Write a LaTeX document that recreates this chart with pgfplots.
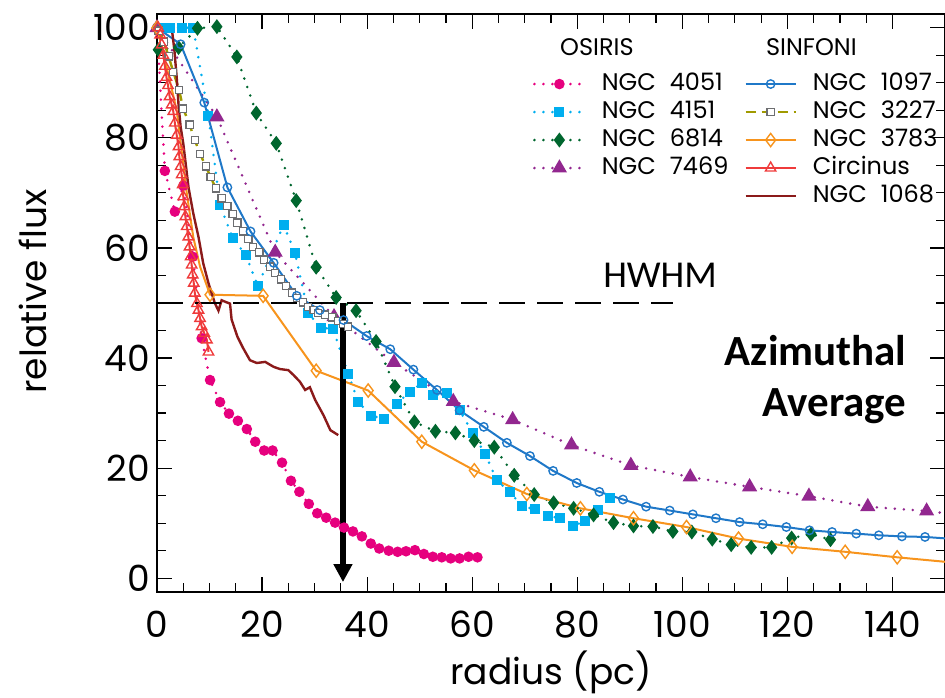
\documentclass[border=0pt]{standalone}
\usepackage{fontspec}
\setmainfont{Poppins}
\newfontfamily\hwfont{Carlito}
\usepackage{pgfplots}
\pgfplotsset{compat=1.18}
\usetikzlibrary{arrows.meta}

\definecolor{c4051}{HTML}{E6007E}
\definecolor{c4151}{HTML}{00AEEF}
\definecolor{c6814}{HTML}{00662E}
\definecolor{c7469}{HTML}{92278F}
\definecolor{c1097}{HTML}{1F78C8}
\definecolor{c3227}{HTML}{A09A00}
\definecolor{c3227m}{HTML}{6D6E71}
\definecolor{c3783}{HTML}{F7941D}
\definecolor{cCirc}{HTML}{EF3B3B}
\definecolor{c1068}{HTML}{8B1A1A}

\pgfplotsset{
  dotline/.style={line width=1.4pt, dash pattern=on 0pt off 4.5pt, line cap=round},
  s4051/.style={color=c4051, dotline, mark=*, mark size=1.9pt, mark options={solid}},
  s4151/.style={color=c4151, dotline, mark=square*, mark size=1.8pt, mark options={solid}},
  s6814/.style={color=c6814, dotline, mark=diamond*, mark size=2.6pt, mark options={solid}},
  s7469/.style={color=c7469, dotline, mark=triangle*, mark size=3pt, mark options={solid}},
  s1097/.style={color=c1097, line width=1pt, mark=o, mark size=2.1pt, mark options={solid, line width=0.7pt}},
  s3227/.style={color=c3227, line width=1.2pt, dash pattern=on 5pt off 3pt, mark=square*, mark size=1.8pt, mark options={solid, draw=c3227m, fill=white, line width=0.6pt}},
  s3783/.style={color=c3783, line width=1pt, mark=diamond, mark size=3.3pt, mark options={solid, line width=0.7pt}},
  sCirc/.style={color=cCirc, line width=1pt, mark=triangle, mark size=3pt, mark options={solid, line width=0.7pt}},
  s1068/.style={color=c1068, line width=1.2pt, mark=none},
}

\begin{document}
\begin{tikzpicture}
\begin{axis}[
  scale only axis, width=394pt, height=289pt,
  xmin=0, xmax=150, ymin=-2.5, ymax=102.5,
  xtick={0,20,...,140}, ytick={0,20,...,100},
  minor x tick num=3, minor y tick num=3,
  tick align=inside, xtick pos=both, ytick pos=both,
  major tick length=7.5pt, minor tick length=4.5pt,
  axis line style={line width=0.8pt},
  tick style={line width=0.6pt, black},
  /pgf/number format/assume math mode=true,
  tick label style={font=\fontsize{18}{18}\selectfont},
  xticklabel={\pgfmathprintnumber{\tick}},
  xticklabel style={text height=19pt},
  yticklabel={\pgfmathprintnumber{\tick}\hspace{3.5pt}},
  xlabel={radius (pc)}, ylabel={relative flux},
  xlabel style={at={(axis description cs:0.5,-0.139)}, anchor=center, font=\fontsize{18}{18}\selectfont},
  ylabel style={at={(axis description cs:-0.158,0.52)}, anchor=center, font=\fontsize{18}{18}\selectfont},
  legend columns=2,
  legend cell align=left,
  legend image code/.code={\draw[mark repeat=2,mark phase=2] plot coordinates {(0pt,0pt)(12.5pt,0pt)(25pt,0pt)};},
  legend style={draw=none, fill=none, font=\fontsize{12}{14}\selectfont,
    at={(axis cs:71.5,79.6)}, anchor=west, inner sep=0pt, row sep=0pt, column sep=6.5pt,
    nodes={inner sep=1.5pt, text height=8.5pt, text depth=2.5pt}},
]

% NGC 4051 (OSIRIS)
\addplot[s4051, forget plot] coordinates {
(0,100)(1.5,74)(3.4,66.6)(5.0,71.3)(6.8,58.4)(8.5,43.6)(10.1,36)(12,32)(13.7,29.9)
(15.4,28.6)(17.1,27.1)(18.7,24.8)(20.4,23.2)(22.0,23.2)(23.8,21.0)(25.5,17.7)(27.1,15.7)
(28.9,13.5)(30.5,11.8)(32.2,11.0)(33.9,10.1)(35.6,9.2)(37.3,8.5)(39,7.6)(40.7,6.3)
(42.3,5.4)(44.1,5.0)(45.8,4.8)(47.4,4.9)(49.1,5.1)(50.8,4.4)(52.5,3.9)(54.2,3.8)
(55.9,3.6)(57.6,3.6)(59.3,3.9)(61,3.8)};

% NGC 4151 (OSIRIS)
\addplot[s4151, forget plot] coordinates {
(0.6,100)(2.5,100)(4.8,100)(6.9,100)(9.8,84)(12,67.8)(14.4,61.8)(16.9,58.7)(19.2,53.1)
(24.1,64.2)(26.3,59)(28.8,48.1)(31.2,45.5)(33.5,45.3)(36.4,37.1)(38.3,32.1)(40.7,29.5)
(43.2,29.0)(45.6,31.6)(48.1,33.9)(50.4,35.4)(52.6,33.3)(55.2,33.6)(57.6,30.5)(60.1,26.4)
(62.5,22.5)(64.7,17.8)(67.2,15.6)(69.5,13.1)(71.9,12.5)(74.4,11.3)(76.8,10.9)(79.2,9.5)
(81.5,10.4)(83.9,12.4)(86.3,14.5)};

% NGC 6814 (OSIRIS)
\addplot[s6814, forget plot] coordinates {
(0.25,96)(4.1,96.4)(7.7,99.9)(11.4,100.2)(15.2,94.7)(18.9,84.5)(22.7,79)(26.5,68.6)
(30.3,56.5)(34.1,51)(37.9,48.6)(41.7,43)(45.3,34.8)(49,28.4)(53,26.7)(56.8,26.4)
(60.4,25)(64.2,23.8)(68,18.7)(71.8,15.2)(75.5,13.7)(79.3,12.7)(83.1,11.5)(86.9,10.1)
(90.7,9.5)(94.4,9.4)(98.2,8.5)(101.8,8.4)(105.7,7.1)(109.3,6.1)(113.1,5.6)(117,5.6)
(120.8,7.3)(124.5,8)(128.2,7.0)};

% NGC 7469 (OSIRIS)
\addplot[s7469, forget plot] coordinates {
(0,100)(11.4,83.8)(22.5,59.2)(33.7,47.5)(45.1,39.2)(56.4,32.1)(67.7,28.8)(78.9,24.2)
(90.2,20.5)(101.5,18.4)(112.8,16.6)(124.1,14.9)(135.3,13)(146.5,12.2)(157.8,11.0)};

% NGC 3227 (SINFONI)
\addplot[s3227, forget plot] coordinates {
(0.3,99.5)(1.3,97.5)(2.2,94.8)(3.1,92)(4.2,88.7)(5.0,85.3)(6.2,82.4)(7.2,79.6)(8.2,77.1)
(9.3,74.8)(10.2,72.9)(11.2,70.8)(12.3,69)(13.4,67.6)(14.4,66.2)(15.3,64.6)(16.4,63)
(17.4,61.6)(18.3,60.2)(19.5,59.2)(20.4,57.9)(21.5,56.6)(22.5,55.4)(23.6,54.3)(24.6,53.1)
(25.7,51.9)(26.6,50.9)(27.8,50.1)(28.8,49.3)(29.8,48.7)(30.7,48.2)(32,47.9)(33.4,47.4)
(34.5,46.7)(35.4,46.2)(36.4,45.7)};

% NGC 1097 (SINFONI)
\addplot[s1097, forget plot] coordinates {
(0,100)(4.5,97)(9,86.4)(13.4,71)(17.8,63)(22.2,57.3)(26.6,51.3)(31,48.7)(35.5,46.9)
(39.9,44)(44.4,41.6)(48.8,37.9)(53.3,34.2)(57.6,30.5)(62.2,27.5)(66.6,24.6)(71,22.2)
(75.4,19.5)(79.9,17.3)(84.2,15.7)(88.7,14.3)(93.1,13)(97.6,12.3)(102,11.6)(106.4,10.9)
(110.9,10.2)(115.3,9.8)(119.8,9.3)(124.2,8.7)(128.5,8.4)(133.1,8.1)(137.4,7.8)
(141.8,7.6)(146.2,7.5)(150.6,7.2)};

% NGC 3783 (SINFONI): line and diamond marks
\addplot[s3783, mark=none, forget plot] coordinates {
(0,100)(1.8,93)(3.75,85)(5.66,70)(6.9,62)(8.2,56.6)(10.1,51.5)(20.2,51.3)(30.3,37.7)
(40.2,34.1)(50.4,24.8)(60.4,19.6)(70.4,15.3)(80.6,12.7)(90.7,10.9)(100.8,9.3)
(110.7,7.2)(120.9,5.7)(131,4.8)(140.9,3.8)(151,2.9)};
\addplot[s3783, only marks, forget plot] coordinates {
(0,100)(10.1,51.5)(20.2,51.3)(30.3,37.7)(40.2,34.1)(50.4,24.8)(60.4,19.6)(70.4,15.3)
(80.6,12.7)(90.7,10.9)(100.8,9.3)(110.7,7.2)(120.9,5.7)(131,4.8)(140.9,3.8)};

% NGC 1068 (SINFONI)
\addplot[s1068, forget plot] coordinates {
(2.8,100)(3.3,96)(3.75,91)(4.1,86)(4.5,82)(5,79)(6,71)(6.9,66.3)(7.9,62)(8.8,57.2)
(9.8,53.6)(11,50)(11.7,48.6)(12.3,50.5)(13.3,50.1)(13.9,49.9)(14.2,47)(15.3,43.9)
(16.4,41.8)(17.7,39.6)(19,39.1)(20.6,39.3)(22.2,38.4)(23.4,38)(25,37.8)(26,36.9)
(27.2,35.7)(28.2,34.2)(29.1,34.7)(30.1,32.4)(31.7,29.6)(33,26.9)(34.5,26)};

% Circinus (SINFONI)
\addplot[sCirc, forget plot] coordinates {
(0.2,100)(0.6,98.7)(0.9,96.9)(1.2,95)(1.5,93)(1.8,91)(2.1,89.5)(2.4,87.5)(2.8,86)
(3.1,84.8)(3.4,82.7)(3.75,80.5)(4.1,78.4)(4.25,76.6)(4.5,74.8)(4.7,73.3)(4.9,71.5)
(5.0,69.3)(5.2,67.5)(5.4,65.7)(5.66,63.9)(5.96,62)(6.2,60.2)(6.4,58.4)(6.6,56.9)
(6.8,55.1)(7.0,53.6)(7.2,51.8)(7.6,49.9)(7.9,48.7)(8.2,47.2)(8.5,45.7)(9.0,44.5)
(9.5,43.3)(9.8,41.1)};

% HWHM line and arrow
\addplot[black, line width=1.2pt, dash pattern=on 13pt off 6pt, forget plot] coordinates {(0,50)(98.3,50)};
\addplot[black, line width=3pt, -{Triangle[width=9pt,length=9pt]}, forget plot] coordinates {(35.4,50)(35.4,-0.7)};

% legend
\addlegendimage{s4051}\addlegendentry{NGC\hspace{7pt}4051}
\addlegendimage{s1097}\addlegendentry{NGC\hspace{7pt}1097}
\addlegendimage{s4151}\addlegendentry{NGC\hspace{7pt}4151}
\addlegendimage{s3227}\addlegendentry{NGC\hspace{7pt}3227}
\addlegendimage{s6814}\addlegendentry{NGC\hspace{7pt}6814}
\addlegendimage{s3783}\addlegendentry{NGC\hspace{7pt}3783}
\addlegendimage{s7469}\addlegendentry{NGC\hspace{7pt}7469}
\addlegendimage{sCirc}\addlegendentry{Circinus}
\addlegendimage{empty legend}\addlegendentry{}
\addlegendimage{s1068}\addlegendentry{NGC\hspace{7pt}1068}

\node[anchor=west, font=\fontsize{12}{14}\selectfont] at (axis cs:75.4,96.5) {OSIRIS};
\node[anchor=west, font=\fontsize{12}{14}\selectfont] at (axis cs:114.6,96.5) {SINFONI};
\node[anchor=base west, font=\hwfont\fontsize{19}{19}\selectfont] at (axis cs:83.6,52.9) {HWHM};
\node[anchor=base east, font=\hwfont\bfseries\fontsize{21.5}{21.5}\selectfont] at (axis cs:144,38.7) {Azimuthal};
\node[anchor=base east, font=\hwfont\bfseries\fontsize{21.5}{21.5}\selectfont] at (axis cs:144,29.3) {Average};
\end{axis}
\pgfresetboundingbox
\path (current axis.south west) ++(-78.5pt,-53pt) rectangle ([yshift=7pt]current axis.north east);
\end{tikzpicture}
\end{document}
